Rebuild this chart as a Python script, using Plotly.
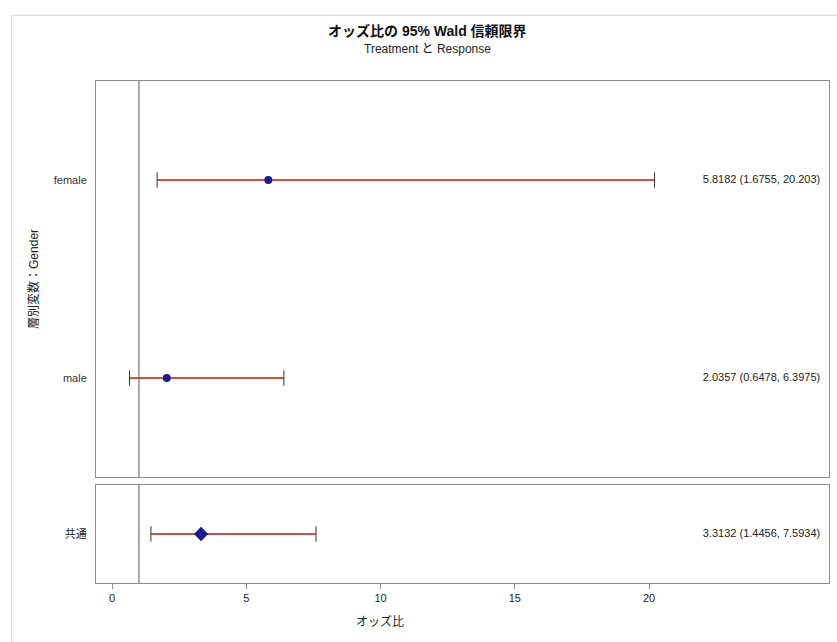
import plotly.graph_objects as go
from plotly.subplots import make_subplots

# Stratum-specific odds ratios with 95% Wald limits
strata = ["female", "male"]
strata_or = [5.8182, 2.0357]
strata_lower = [1.6755, 0.6478]
strata_upper = [20.203, 6.3975]

# Common (pooled) odds ratio
common_label = ["共通"]
common_or = [3.3132]
common_lower = [1.4456]
common_upper = [7.5934]

x_ticks = [0, 5, 10, 15, 20]

FONT = "Liberation Sans, Noto Sans CJK JP, sans-serif"
MARK = "#1c1c8c"
LINE = "#c01808"
FRAME = "#8c8c8c"

fig = make_subplots(rows=2, cols=1, shared_xaxes=True,
                    row_heights=[396, 98], vertical_spacing=8 / 502)


def add_group(labels, est, lo, hi, row, symbol, size):
    for lab, e, l, h in zip(labels, est, lo, hi):
        # CI line
        fig.add_trace(go.Scatter(x=[l, h], y=[lab, lab], mode="lines",
                                 line=dict(color=LINE, width=1.5),
                                 hoverinfo="skip", showlegend=False),
                      row=row, col=1)
        # caps
        fig.add_trace(go.Scatter(x=[l, h], y=[lab, lab], mode="markers",
                                 marker=dict(symbol="line-ns", size=11,
                                             line=dict(color="#333333", width=1)),
                                 hoverinfo="skip", showlegend=False),
                      row=row, col=1)
        # point estimate
        fig.add_trace(go.Scatter(x=[e], y=[lab], mode="markers",
                                 marker=dict(symbol=symbol, size=size, color=MARK),
                                 showlegend=False),
                      row=row, col=1)
        # value label
        fig.add_trace(go.Scatter(x=[22], y=[lab], mode="text",
                                 text=[f"{e:.5g} ({l:.5g}, {h:.5g})"],
                                 textposition="middle right",
                                 textfont=dict(size=11, color="#222222", family=FONT),
                                 hoverinfo="skip", showlegend=False),
                      row=row, col=1)


add_group(strata, strata_or, strata_lower, strata_upper, 1, "circle", 8)
add_group(common_label, common_or, common_lower, common_upper, 2, "diamond", 11)

xr = [-0.6, 26.7]
axis_common = dict(showline=True, mirror=True, linecolor=FRAME, linewidth=1,
                   showgrid=False, zeroline=False)
fig.update_xaxes(range=xr, **axis_common)
fig.update_xaxes(showticklabels=False, ticks="", row=1, col=1)
fig.update_xaxes(tickvals=x_ticks, ticks="outside", ticklen=5, tickcolor=FRAME,
                 tickfont=dict(size=11, color="#222222", family=FONT), row=2, col=1)
fig.update_yaxes(type="category", range=[1.5, -0.5], ticks="", ticklabelstandoff=6,
                 tickfont=dict(size=11, color="#333333", family=FONT),
                 row=1, col=1, **axis_common)
fig.update_yaxes(type="category", range=[-0.5, 0.5], ticks="", ticklabelstandoff=6,
                 tickfont=dict(size=11, color="#222222", family=FONT),
                 row=2, col=1, **axis_common)

# reference line at OR = 1
for yref in ["y domain", "y2 domain"]:
    fig.add_shape(type="line", x0=1, x1=1, y0=0, y1=1, xref="x", yref=yref,
                  line=dict(color="#555555", width=1))

# outer frame (top and left edges)
fig.add_shape(type="line", xref="paper", yref="paper", x0=-0.115, x1=1.02,
              y0=1.131, y1=1.131, line=dict(color="#d6d6d6", width=1))
fig.add_shape(type="line", xref="paper", yref="paper", x0=-0.115, x1=-0.115,
              y0=1.131, y1=-0.2, line=dict(color="#d6d6d6", width=1))

fig.add_annotation(text="<b>オッズ比の 95% Wald 信頼限界</b>", xref="paper", yref="paper",
                   x=0.4516, y=1.0996, showarrow=False, yanchor="middle",
                   font=dict(size=14, color="#111111", family=FONT))
fig.add_annotation(text="Treatment と Response", xref="paper", yref="paper",
                   x=0.4516, y=1.0637, showarrow=False, yanchor="middle",
                   font=dict(size=12, color="#222222", family=FONT))
fig.add_annotation(text="オッズ比", xref="paper", yref="paper",
                   x=0.3875, y=-0.0757, showarrow=False, yanchor="middle",
                   font=dict(size=12, color="#222222", family=FONT))
fig.add_annotation(text="層別変数：Gender", xref="paper", yref="y domain",
                   x=-0.086, y=0.5, showarrow=False, textangle=-90,
                   xanchor="center", yanchor="middle",
                   font=dict(size=12, color="#222222", family=FONT))

fig.update_layout(width=837, height=642, plot_bgcolor="white", paper_bgcolor="white",
                  margin=dict(l=96, r=8, t=81, b=59), showlegend=False)

fig.write_html("out.html")
